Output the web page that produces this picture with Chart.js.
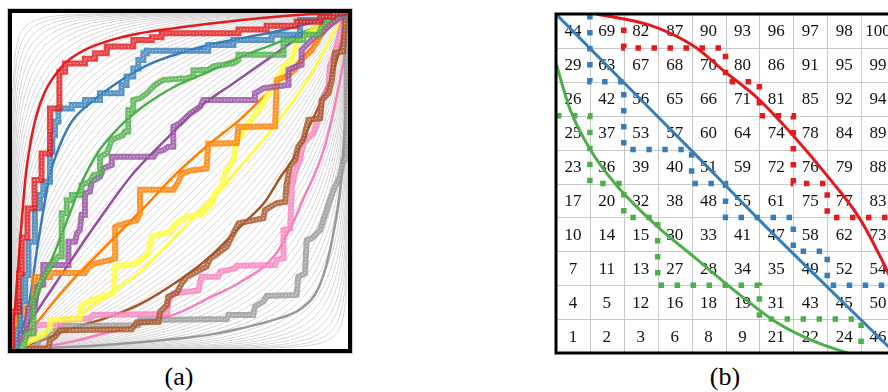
<!DOCTYPE html>
<html>
<head>
<meta charset="utf-8">
<script src="https://cdn.jsdelivr.net/npm/chart.js@4.4.1/dist/chart.umd.min.js"></script>
<style>
html, body { margin: 0; padding: 0; background: #fff; overflow: hidden; }
body { width: 888px; height: 392px; position: relative; }
#wrapA { position: absolute; left: 0; top: 0; width: 360px; height: 362px; }
#wrapB { position: absolute; left: 540px; top: 0; width: 360px; height: 362px; }
.lbl { position: absolute; top: 364px; width: 80px; text-align: center;
       font-family: "Liberation Serif", serif; font-size: 26px; line-height: 26px; color: #000; }
</style>
</head>
<body>
<div id="wrapA"><canvas id="chartA" width="360" height="362"></canvas></div>
<div id="wrapB"><canvas id="chartB" width="360" height="362"></canvas></div>
<div class="lbl" style="left:139px">(a)</div>
<div class="lbl" style="left:685px">(b)</div>
<script>
// ---------- panel (a): curves on a 0..100 square ----------
// separations (d') of the faint gray binormal reference curves, one set per corner
const grayLevels = [0, 0.058, 0.115, 0.173, 0.231, 0.289, 0.348, 0.406, 0.465, 0.525, 0.585, 0.645,
  0.706, 0.767, 0.83, 0.893, 0.957, 1.022, 1.089, 1.157, 1.226, 1.298, 1.368, 1.443, 1.518, 1.595,
  1.676, 1.761, 1.846, 1.936, 2.03, 2.13, 2.234, 2.344, 2.464, 2.592, 2.732, 2.886, 3.06, 3.261,
  3.501];

const colorsA = {
  red: '#e41a1c', blue: '#377eb8', green: '#4daf4a', purple: '#984ea3', orange: '#ff7f00',
  yellow: '#ffff33', brown: '#a65628', pink: '#f781bf', gray: '#999999'
};

// fitted (smooth) curves
const redFit = [[0,0],[0.9,12.1],[2.4,31.9],[4.1,51.7],[5.4,60.7],[7.3,69.6],[9.8,76.5],[12.8,81.5],[16.3,85.5],[21.7,89],[27.7,91.4],[37.6,93.9],[51.5,95.9],[68.4,97.9],[88.2,99.6],[100,100]];
const blueFit = [[0,0],[4.8,12.1],[7.8,31.9],[11.3,51.7],[14.3,60.7],[17.8,67.7],[23.8,73.6],[29.7,78.1],[36.6,82.5],[42.6,85.5],[51.5,88.5],[58.4,90.5],[68.3,92.5],[78.3,94.4],[88.2,96.9],[94.1,98.4],[100,100]];
const greenFit = [[0,0],[3.4,2.2],[5.9,10.1],[8.8,19],[12.8,29],[17.8,41.9],[20.2,48.3],[25.7,58.7],[31.6,65.7],[39.6,72.6],[47.5,77.6],[58.4,82.5],[68.3,87],[78.3,90.9],[88.2,94.9],[94.1,97.4],[100,100]];
const purpleFit = [[0,0],[6.3,9.5],[16.3,24.5],[26.2,38.9],[36.1,52.3],[46.1,62.7],[55.9,72.1],[65.9,79.1],[75.8,86],[85.7,92.9],[100,100]];
const orangeFit = [[0,0],[5.9,6.2],[16.3,18.6],[27.7,30.4],[39.1,41.9],[48.5,51.8],[58.4,60.7],[68.3,68.7],[78.3,78.6],[88.2,88.5],[94.1,95.5],[100,100]];
const yellowFit = [[0,0],[6.3,3.7],[15.8,7.1],[27.7,15.5],[37.6,22.5],[48.5,33.4],[56,41.3],[63.4,48.8],[68.3,54.7],[78.3,66.6],[88.2,80.5],[93.2,89.4],[97.1,96.3],[100,100]];
const brownFit = [[0,0],[7.8,2.2],[17.8,6.2],[27.7,9.1],[37.6,13.1],[50.5,21],[58.4,27],[68.4,36.9],[75.3,43.8],[80.3,51.8],[83.3,55.8],[88.2,65.7],[93.2,76.6],[97.1,87.5],[99.1,96.4],[100,100]];
const pinkFit = [[0,0],[7.8,0.4],[17.8,2.2],[27.7,4.7],[37.6,7.1],[50.5,11.1],[58.4,15.1],[68.3,20.1],[78.3,28],[83.3,36.9],[87.2,45.8],[90.2,52.3],[93.2,60.7],[96.1,72.6],[98.1,82.5],[99.6,92.5],[100,100]];
const grayFit = [[0,0],[7.8,0.2],[27.7,1.2],[50.5,3.2],[58.4,4.2],[68.4,6.2],[78.3,8.8],[86.2,12.1],[91.2,18.1],[94.1,27],[96.1,36.9],[97.6,46.8],[98.8,62.2],[99.6,79.1],[100,100]];

// empirical staircases
const redSteps = [[0,0],[0,11.1],[2.1,11.1],[2.1,22.5],[2.9,22.5],[2.9,33.2],[4.6,33.2],[4.6,41.8],[6.7,41.8],[6.7,50.3],[8.8,50.3],[8.8,58.2],[11.3,58.2],[11.3,71.6],[14.1,71.6],[14.1,82.5],[15.8,82.5],[15.8,85],[21.7,85],[21.7,86.4],[24.7,86.4],[24.7,88],[28.2,88],[28.2,90],[36.1,90],[36.1,92],[41.6,92],[41.6,92.8],[44.5,92.8],[44.5,94],[67.4,94],[67.4,95.1],[75.8,95.1],[75.8,96.2],[84.7,96.2],[84.7,97.4],[91.7,97.4],[91.7,98.9],[95.6,98.9],[95.6,99.7],[100,100]];
const blueSteps = [[0,0],[1.4,0],[1.4,5.7],[2.4,5.7],[2.4,14.1],[3.9,14.1],[3.9,22],[4.9,22],[4.9,31.9],[6.8,31.9],[6.8,41.9],[8.3,41.9],[8.3,45.8],[9.3,45.8],[9.3,49.8],[11.3,49.8],[11.3,58.7],[12,58.7],[12,63.7],[12.8,63.7],[12.8,67.7],[13.8,67.7],[13.8,71.6],[17.8,71.6],[17.8,72.6],[21.7,72.6],[21.7,74.1],[26.2,74.1],[26.2,76.1],[32.6,76.1],[32.6,78.6],[34.1,78.6],[34.1,81.1],[36.1,81.1],[36.1,83.5],[37.6,83.5],[37.6,86],[39.1,86],[39.1,88],[40.1,88],[40.1,88.8],[58.4,88.8],[58.4,90.5],[65.9,90.5],[65.9,92],[77.3,92],[77.3,93.5],[85.7,93.5],[85.7,97.9],[92.2,97.9],[92.2,98.9],[100,100]];
const greenSteps = [[0,0],[3.4,0.7],[4.4,4.7],[6.4,4.7],[6.4,14.6],[7.3,16.6],[8.3,19.5],[11.3,24.5],[13.8,27.5],[14.8,27.5],[14.8,40.4],[16.3,40.4],[16.3,44.3],[17.8,44.3],[17.8,45.8],[20.7,45.8],[20.7,48.8],[23.2,49.8],[24.2,51.7],[26.2,52.2],[26.2,57.2],[28.2,58.2],[29.7,62.2],[33.1,63.7],[33.6,64.7],[34.6,64.7],[34.6,71.1],[36.1,71.1],[36.1,74.1],[38.1,74.6],[40.1,76.1],[42.6,78.6],[45.1,80.1],[52,80.6],[54,81.1],[54,82.9],[58.4,83.1],[59.9,84.1],[65.9,85.1],[67.4,86.1],[67.4,87.6],[80.8,87.6],[80.8,92],[86.7,92],[86.7,93.5],[91.2,93.5],[92.2,96],[94.7,98.5],[100,100]];
const purpleSteps = [[0,0],[1.9,1.7],[2.9,5.7],[4.4,6.2],[4.8,12.1],[6.8,12.6],[7.5,18.6],[9.3,19.1],[9.3,25],[16.8,25],[16.8,31.9],[18.8,31.9],[19.3,34.4],[20.2,35.4],[20.7,39.9],[21.7,39.9],[21.7,46.3],[23.2,46.8],[23.7,49.8],[26.2,51.3],[27.2,53.8],[29.7,54.8],[29.7,57.2],[42.1,57.2],[43.1,58.7],[45.1,59.2],[46.5,60.2],[48,60.2],[48,66.2],[50,67.2],[53,70.1],[56,72.1],[56.9,74.1],[72.3,74.1],[72.3,76.1],[74.8,77.6],[82.3,78.6],[82.3,83.1],[84.7,84.1],[86.2,84.6],[86.2,89],[88.2,91],[90.2,93],[92.2,94],[94.1,96],[96.6,97.9],[100,100]];
const orangeSteps = [[0,0],[0.2,5.7],[1.4,6.2],[1.9,9.6],[3.4,10.1],[3.9,12.1],[6.3,12.6],[6.8,21.4],[11.3,21.4],[11.3,22.6],[21.7,22.6],[22.7,24.4],[24.7,25.4],[30.7,26.9],[30.7,36.3],[31.7,36.8],[37.1,38.3],[38.1,40.3],[38.1,47.4],[48,47.4],[49.5,49.7],[50.5,52.2],[53.5,53.2],[57.9,53.7],[58.4,61.1],[66.9,61.3],[67.4,66.1],[78.3,66.3],[78.8,80.1],[81.7,81.1],[84.2,83.1],[86.2,86.1],[89.3,89],[92.2,94],[96.1,99.9],[100,100]];
const yellowSteps = [[0,0],[2.4,0.7],[5.8,2.6],[9.3,4.2],[11.3,6.1],[11.3,8.6],[20.2,9.1],[20.7,13.1],[25.2,15.1],[30.2,16.6],[30.7,24.5],[37.1,25.5],[40.6,28.5],[41.6,33.4],[47,34.9],[49,37.4],[52,39.4],[56,39.9],[58.9,42.4],[60.4,46.3],[62.4,48.3],[63.4,52.3],[65.9,56.2],[66.9,62.2],[68.9,64.7],[71.8,69.1],[74.8,73.1],[76.8,77.1],[78.8,79.1],[80.8,84.1],[83.3,86.1],[84.7,91],[86.7,93],[89.7,95],[92.7,96.9],[95.6,98.9],[100,100]];
const brownSteps = [[0,0],[10.8,0.2],[11.3,2.7],[12.8,3.7],[14.3,5.6],[35.6,5.9],[37.1,7.9],[43.6,8.1],[44.1,11.1],[46.1,13.1],[46.5,15.6],[49,16.6],[50.5,19.5],[52,21.5],[57.9,24.5],[58.9,26.9],[60.4,27.9],[63.9,30.4],[65.9,34.4],[67.4,37.4],[74.8,38.9],[75.3,41.4],[78.8,43.4],[81.3,43.8],[81.7,48.8],[82.7,54.3],[84.2,56.3],[85.2,60.3],[86.7,62.3],[88.2,68.2],[91.7,68.7],[92.2,74.1],[94.2,76.1],[95.2,80.1],[96.1,88.1],[98.6,88.6],[99.1,98],[100,100]];
const pinkSteps = [[0,0],[1.4,1.7],[2.4,3.7],[6.3,4.2],[7.3,7.1],[14.3,7.4],[14.8,8.6],[23.2,9.1],[24.2,10.1],[46.1,10.4],[46.5,14.1],[48,16.6],[50.5,16.8],[55.5,17.4],[55.9,19.5],[56.4,21.5],[61.4,21.5],[61.9,23],[66.4,24],[66.9,24.8],[78.3,25],[78.8,26.5],[80.8,27],[80.8,35.4],[82.8,35.9],[83.3,48.3],[84.2,52.3],[85.7,56.3],[86.7,61.3],[89.7,64.2],[91.7,69.7],[92.2,74.1],[94.2,78.1],[94.6,84.1],[96.1,88.1],[97.6,94],[98.6,98],[100,100]];
const graySteps = [[0,0],[7.3,0.2],[7.8,2.7],[10.3,3.7],[10.8,5.2],[14.3,5.6],[14.3,6.8],[37.6,7.1],[38.1,8.6],[63.9,8.9],[64.4,10.1],[71.8,10.1],[72.3,12.6],[74.8,14.1],[75.8,15.8],[84.7,16.1],[85.2,21.5],[87.2,22.5],[87.7,32.4],[89.2,32.9],[91.7,35.4],[93.2,39.9],[94.6,44.3],[96.1,48.3],[97.6,51.3],[98.6,56.2],[99.6,56.7],[99.6,97.9],[100,100]];

// ---------- panel (b): 10x10 grid ----------
const gridRows = [
  [44, 69, 82, 87, 90, 93, 96, 97, 98, 100],
  [29, 63, 67, 68, 70, 80, 86, 91, 95, 99],
  [26, 42, 56, 65, 66, 71, 81, 85, 92, 94],
  [25, 37, 53, 57, 60, 64, 74, 78, 84, 89],
  [23, 36, 39, 40, 51, 59, 72, 76, 79, 88],
  [17, 20, 32, 38, 48, 55, 61, 75, 77, 83],
  [10, 14, 15, 30, 33, 41, 47, 58, 62, 73],
  [7, 11, 13, 27, 28, 34, 35, 49, 52, 54],
  [4, 5, 12, 16, 18, 19, 31, 43, 45, 50],
  [1, 2, 3, 6, 8, 9, 21, 22, 24, 46]
];
const redPath = [[2,9.6],[2,9],[5,9],[5,8],[6,8],[6,7],[7,7],[7,5],[8,5],[8,4],[10.4,4]];
const bluePath = [[1,10],[1,8],[2,8],[2,6],[4,6],[4,5],[5,5],[5,4],[7,4],[7,3],[8,3],[8,2],[10.4,2]];
const greenPath = [[0,7],[1,7],[1,5],[2,5],[2,4],[3,4],[3,2],[6,2],[6,1],[9,1],[9,-0.3]];
const redCurve = [[1.2,10],[2.77,9.67],[4.05,9.06],[4.94,8.33],[5.92,7.54],[7.0,6.41],[8.08,5.13],[8.97,3.95],[9.65,2.67],[10.2,1.5]];
const blueCurve = [[0,10],[2,7.98],[4,5.97],[6,3.92],[8,1.95],[10,0]];
const greenCurve = [[0,8.55],[0.41,7.2],[1.0,6.02],[1.79,4.94],[2.97,3.75],[4.15,2.77],[5.33,1.79],[6.51,0.9],[7.69,0.31],[8.6,0]];

function pts(arr) {
  return arr.map(p => ({ x: p[0], y: p[1] }));
}

// standard normal cdf
function phi(z) {
  let t = 1 / (1 + 0.3275911 * Math.abs(z) / Math.SQRT2);
  let e = 1 - (((((1.061405429 * t - 1.453152027) * t) + 1.421413741) * t - 0.284496736) * t + 0.254829592) * t * Math.exp(-z * z / 2);
  return z >= 0 ? 0.5 * (1 + e) : 0.5 * (1 - e);
}

function binormal(d, flip) {
  let out = [{ x: 0, y: 0 }];
  for (let z = -6.5; z <= 6.5; z += 0.1) {
    let a = phi(z) * 100, b = phi(z + d) * 100;
    out.push(flip ? { x: b, y: a } : { x: a, y: b });
  }
  out.push({ x: 100, y: 100 });
  return out;
}

let datasetsA = [];

// gray family in the back
grayLevels.forEach(d => {
  datasetsA.push({ data: binormal(d, false), borderColor: '#d6d6d6', borderWidth: 1, order: 100 });
  if (d > 0) datasetsA.push({ data: binormal(d, true), borderColor: '#d6d6d6', borderWidth: 1, order: 100 });
});

const fits = [
  [redFit, colorsA.red], [blueFit, colorsA.blue], [greenFit, colorsA.green], [purpleFit, colorsA.purple],
  [orangeFit, colorsA.orange], [yellowFit, colorsA.yellow], [brownFit, colorsA.brown],
  [pinkFit, colorsA.pink], [grayFit, colorsA.gray]
];
fits.forEach(f => {
  datasetsA.push({ data: pts(f[0]), borderColor: f[1], borderWidth: 2.5, cubicInterpolationMode: 'monotone', order: 50 });
});

// staircases, red drawn last (on top)
const steps = [
  [redSteps, colorsA.red], [blueSteps, colorsA.blue], [greenSteps, colorsA.green], [purpleSteps, colorsA.purple],
  [orangeSteps, colorsA.orange], [yellowSteps, colorsA.yellow], [brownSteps, colorsA.brown],
  [pinkSteps, colorsA.pink], [graySteps, colorsA.gray]
];
steps.forEach((s, k) => {
  datasetsA.push({ data: pts(s[0]), borderColor: s[1] + 'd0', borderWidth: 6, borderJoinStyle: 'miter', order: 2 * k + 1 });
  // light inner dots that mimic the hollow square markers
  datasetsA.push({ data: pts(s[0]), borderColor: 'rgba(255,255,255,0.5)', borderWidth: 1.4, borderDash: [1.2, 2.2], order: 2 * k });
});

const frameA = {
  id: 'frameA',
  afterDraw(chart) {
    const { ctx, chartArea: a } = chart;
    ctx.save();
    ctx.strokeStyle = '#cfcfcf';
    ctx.lineWidth = 1;
    ctx.strokeRect(a.left - 4.5, a.top - 4.5, a.width + 9, a.height + 9);
    ctx.strokeStyle = '#000';
    ctx.lineWidth = 4;
    ctx.strokeRect(a.left - 2, a.top - 2, a.width + 4, a.height + 4);
    ctx.restore();
  }
};

new Chart(document.getElementById('chartA'), {
  type: 'line',
  data: { datasets: datasetsA },
  options: {
    responsive: false,
    animation: false,
    layout: { padding: { left: 12, top: 13, right: 12, bottom: 13 } },
    elements: { point: { radius: 0 }, line: { fill: false } },
    scales: {
      x: { type: 'linear', min: 0, max: 100, display: false },
      y: { type: 'linear', min: 0, max: 100, display: false }
    },
    plugins: { legend: { display: false }, tooltip: { enabled: false } }
  },
  plugins: [frameA]
});

// panel (b)
const gridB = {
  id: 'gridB',
  beforeDatasetsDraw(chart) {
    const { ctx, scales } = chart;
    const sx = scales.x, sy = scales.y;
    ctx.save();
    ctx.strokeStyle = '#c8c8c8';
    ctx.lineWidth = 1;
    for (let i = 1; i < 10; i++) {
      let px = Math.round(sx.getPixelForValue(i)) + 0.5;
      ctx.beginPath(); ctx.moveTo(px, sy.getPixelForValue(10)); ctx.lineTo(px, sy.getPixelForValue(0)); ctx.stroke();
      let py = Math.round(sy.getPixelForValue(i)) + 0.5;
      ctx.beginPath(); ctx.moveTo(sx.getPixelForValue(0), py); ctx.lineTo(sx.getPixelForValue(10), py); ctx.stroke();
    }
    ctx.fillStyle = '#111';
    ctx.font = '17px "Liberation Serif"';
    ctx.textAlign = 'center';
    ctx.textBaseline = 'middle';
    gridRows.forEach((row, r) => {
      row.forEach((v, c) => {
        ctx.fillText(String(v), sx.getPixelForValue(c + 0.5), sy.getPixelForValue(9.5 - r) + 1);
      });
    });
    ctx.restore();
  },
  afterDraw(chart) {
    const { ctx, chartArea: a } = chart;
    ctx.save();
    ctx.strokeStyle = '#000';
    ctx.lineWidth = 3;
    ctx.strokeRect(a.left, a.top, a.width, a.height);
    ctx.restore();
  }
};

new Chart(document.getElementById('chartB'), {
  type: 'line',
  data: {
    datasets: [
      { data: pts(redPath), borderColor: '#e41a1c', borderWidth: 5.5, borderDash: [5.5, 10.5], borderCapStyle: 'butt' },
      { data: pts(bluePath), borderColor: '#377eb8', borderWidth: 5.5, borderDash: [5.5, 10.5], borderCapStyle: 'butt' },
      { data: pts(greenPath), borderColor: '#4daf4a', borderWidth: 5.5, borderDash: [5.5, 10.5], borderCapStyle: 'butt' },
      { data: pts(redCurve), borderColor: '#e41a1c', borderWidth: 3, cubicInterpolationMode: 'monotone' },
      { data: pts(blueCurve), borderColor: '#377eb8', borderWidth: 3, cubicInterpolationMode: 'monotone' },
      { data: pts(greenCurve), borderColor: '#4daf4a', borderWidth: 3, cubicInterpolationMode: 'monotone' }
    ]
  },
  options: {
    responsive: false,
    animation: false,
    layout: { padding: { left: 16, top: 14, right: 5, bottom: 9 } },
    elements: { point: { radius: 0 }, line: { fill: false } },
    scales: {
      x: { type: 'linear', min: 0, max: 10, display: false },
      y: { type: 'linear', min: 0, max: 10, display: false }
    },
    plugins: { legend: { display: false }, tooltip: { enabled: false } }
  },
  plugins: [gridB]
});
</script>
</body>
</html>
